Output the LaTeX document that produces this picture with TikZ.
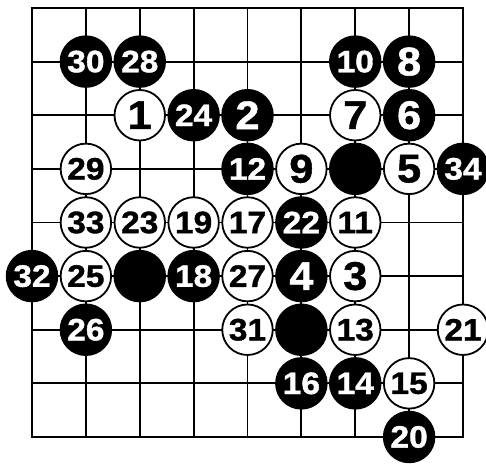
\documentclass[tikz,border=0pt]{standalone}
\usepackage{fontspec}
\newfontfamily\stonefont[FakeStretch=1.08, FakeBold=1.2]{Liberation Sans Bold}
\usepackage{tikz}

\begin{document}
\begin{tikzpicture}[x=53.875pt, y=-53.625pt,
  stone/.style={circle, minimum size=52.5pt, inner sep=0pt, font=\stonefont\fontsize{31}{31}\selectfont},
  bstone/.style={stone, fill=black, text=white},
  wstone/.style={stone, draw=black, line width=1.8pt, minimum size=50.5pt, fill=white, text=black},
  big/.style={font=\stonefont\fontsize{40}{40}\selectfont}
]
  \useasboundingbox (-0.594,-0.149) rectangle (8.427,8.559);

  % board
  \foreach \i in {1,...,7} {
    \draw[line width=1.8pt] (\i,0) -- (\i,8);
    \draw[line width=1.8pt] (0,\i) -- (8,\i);
  }
  \draw[line width=2.6pt] (0,0) rectangle (8,8);

  % stones already on the board
  \node[bstone] (k1) at (6,3) {};
  \node[bstone] (k2) at (2,5) {};
  \node[bstone] (k3) at (5,6) {};

  % moves
  \node[wstone, big] (m1) at (2,2) {1};
  \node[bstone, big] (m2) at (4,2) {2};
  \node[wstone, big] (m3) at (6,5) {3};
  \node[bstone, big] (m4) at (5,5) {4};
  \node[wstone, big] (m5) at (7,3) {5};
  \node[bstone, big] (m6) at (7,2) {6};
  \node[wstone, big] (m7) at (6,2) {7};
  \node[bstone, big] (m8) at (7,1) {8};
  \node[wstone, big] (m9) at (5,3) {9};
  \node[bstone] (m10) at (6,1) {10};
  \node[wstone] (m11) at (6,4) {11};
  \node[bstone] (m12) at (4,3) {12};
  \node[wstone] (m13) at (6,6) {13};
  \node[bstone] (m14) at (6,7) {14};
  \node[wstone] (m15) at (7,7) {15};
  \node[bstone] (m16) at (5,7) {16};
  \node[wstone] (m17) at (4,4) {17};
  \node[bstone] (m18) at (3,5) {18};
  \node[wstone] (m19) at (3,4) {19};
  \node[bstone] (m20) at (7,8) {20};
  \node[wstone] (m21) at (8,6) {21};
  \node[bstone] (m22) at (5,4) {22};
  \node[wstone] (m23) at (2,4) {23};
  \node[bstone] (m24) at (3,2) {24};
  \node[wstone] (m25) at (1,5) {25};
  \node[bstone] (m26) at (1,6) {26};
  \node[wstone] (m27) at (4,5) {27};
  \node[bstone] (m28) at (2,1) {28};
  \node[wstone] (m29) at (1,3) {29};
  \node[bstone] (m30) at (1,1) {30};
  \node[wstone] (m31) at (4,6) {31};
  \node[bstone] (m32) at (0,5) {32};
  \node[wstone] (m33) at (1,4) {33};
  \node[bstone] (m34) at (8,3) {34};
\end{tikzpicture}
\end{document}
